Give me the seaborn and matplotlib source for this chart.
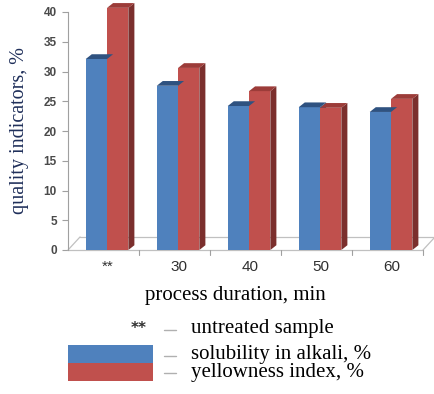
import matplotlib
matplotlib.use("Agg")
import matplotlib.pyplot as plt
import seaborn as sns
import pandas as pd
from matplotlib.patches import Polygon, Rectangle
from matplotlib.lines import Line2D

categories = ["**", "30", "40", "50", "60"]
solubility = [32.1, 27.6, 24.2, 24.0, 23.2]
yellowness = [40.7, 30.6, 26.7, 23.9, 25.4]
series_names = ["solubility in alkali, %", "yellowness index, %"]
yticks = [0, 5, 10, 15, 20, 25, 30, 35, 40]

df = pd.DataFrame({
    "cat": categories * 2,
    "val": solubility + yellowness,
    "series": [series_names[0]] * 5 + [series_names[1]] * 5,
})

sns.set_theme(style="white")
plt.rcParams["font.family"] = ["DejaVu Sans"]

front = {series_names[0]: "#4f81bd", series_names[1]: "#c0504d"}
side = {series_names[0]: "#385d8a", series_names[1]: "#7b2f2d"}
top = {series_names[0]: "#2f5280", series_names[1]: "#9c3c39"}

fig = plt.figure(figsize=(4.35, 3.94), dpi=100)
ax = fig.add_axes([68 / 435, 1 - 250 / 394, 355 / 435, 238 / 394])

sns.barplot(data=df, x="cat", y="val", hue="series", order=categories,
            hue_order=series_names, palette=front, width=0.6, saturation=1,
            legend=False, ax=ax, zorder=3)

shift = 0.05
dx, dy = 0.085, 0.8
for i, p in enumerate(ax.patches[:10]):
    s = series_names[i // 5]
    p.set_x(p.get_x() + shift)
    x0, w, h = p.get_x(), p.get_width(), p.get_height()
    p.set_edgecolor("none")
    p.set_clip_on(False)
    ax.add_patch(Polygon([(x0 + w, 0), (x0 + w + dx, dy), (x0 + w + dx, h + dy), (x0 + w, h)],
                         closed=True, fc=side[s], ec="none", zorder=2.9, clip_on=False))
    ax.add_patch(Polygon([(x0, h), (x0 + dx, h + dy), (x0 + w + dx, h + dy), (x0 + w, h)],
                         closed=True, fc=top[s], ec="none", zorder=3.1, clip_on=False))

ax.set_xlim(-0.5, 4.5)
ax.set_ylim(0, 40)
ax.set_yticks(yticks)
ax.set_yticklabels([str(t) for t in yticks], fontsize=8.5, color="#4a4a4a",
                   family="Liberation Sans", fontweight="bold")
ax.set_xticks([k + 0.06 for k in range(5)])
ax.set_xticklabels(categories, fontsize=11, color="#303030", family="Liberation Sans")
ax.tick_params(axis="x", length=0, pad=7)
ax.tick_params(axis="y", length=4, color="#a0a0a0", width=0.8, left=True, pad=4)
for sp in ["top", "right", "bottom"]:
    ax.spines[sp].set_visible(False)
ax.spines["left"].set_color("#a0a0a0")
ax.spines["left"].set_linewidth(0.8)

# floor
gc = "#c0c0c0"
ax.plot([-0.5, 4.5], [0, 0], color=gc, lw=0.9, clip_on=False, zorder=1)
ax.plot([-0.5 + 0.17, 4.5 + 0.17], [2.2, 2.2], color=gc, lw=0.9, clip_on=False, zorder=1)
ax.plot([-0.5, -0.33], [0, 2.2], color=gc, lw=0.9, clip_on=False, zorder=1)
ax.plot([4.5, 4.67], [0, 2.2], color=gc, lw=0.9, clip_on=False, zorder=1)
for b in [0.5, 1.5, 2.5, 3.5, 4.5]:
    ax.plot([b, b], [0, -0.8], color="#a0a0a0", lw=0.8, clip_on=False, zorder=1)

ax.set_xlabel("process duration, min", family="Liberation Serif", fontsize=15,
              color="black")
ax.xaxis.set_label_coords((235 - 68) / 355, -(286 - 250) / 238)
ax.set_ylabel("quality indicators, %", family="Liberation Serif", fontsize=14.5,
              color="#1f2f5a")
ax.yaxis.set_label_coords(-(68 - 29) / 355, (250 - 131) / 238)

# legend block
fig.text(139 / 435, 1 - 329 / 394, "**", fontsize=11, ha="center", va="center",
         color="#303030", fontweight="bold")
for yy in [330, 356, 373]:
    fig.add_artist(Line2D([164 / 435, 176 / 435], [1 - yy / 394] * 2, color="#b0b0b0",
                          lw=1.0, transform=fig.transFigure))
fig.text(191 / 435, 1 - 329 / 394, "untreated sample", family="Liberation Serif",
         fontsize=15, va="center", color="black")
fig.text(191 / 435, 1 - 355 / 394, series_names[0], family="Liberation Serif",
         fontsize=15, va="center", color="black")
fig.text(191 / 435, 1 - 373 / 394, series_names[1], family="Liberation Serif",
         fontsize=15, va="center", color="black")
fig.add_artist(Rectangle((68 / 435, 1 - 363 / 394), 85 / 435, 18 / 394,
                         fc=front[series_names[0]], ec="none", transform=fig.transFigure))
fig.add_artist(Rectangle((68 / 435, 1 - 381 / 394), 85 / 435, 18 / 394,
                         fc=front[series_names[1]], ec="none", transform=fig.transFigure))

fig.savefig("out.png", dpi=100)
